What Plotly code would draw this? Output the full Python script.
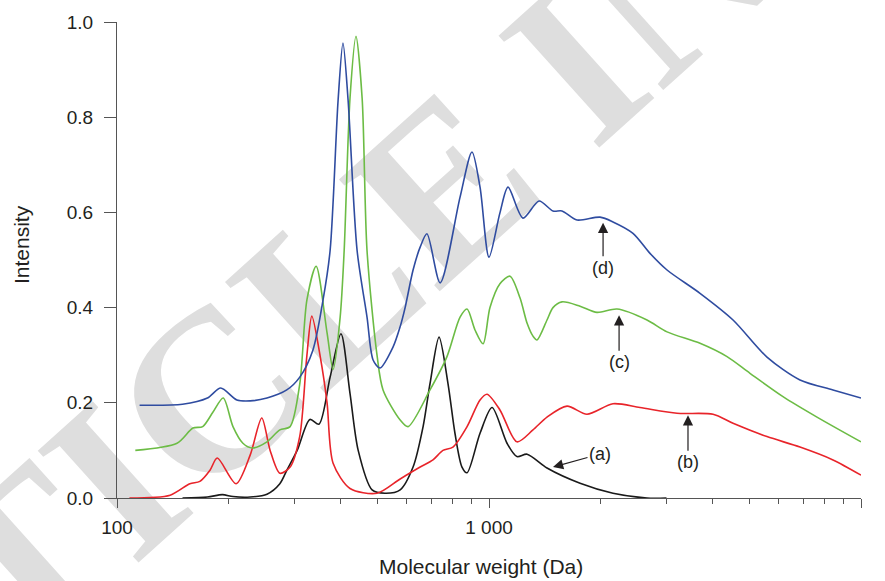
import numpy as np
import plotly.graph_objects as go

# ---- data ----
mw_a = [150, 175, 192, 205, 228, 253, 274, 286, 305, 330, 349, 374, 400, 423, 445, 485, 525,
        577, 625, 665, 694, 734, 776, 810, 846, 873, 946, 1019, 1118, 1189, 1266, 1432, 1757,
        2154, 2659, 3000]
int_a = [0.0, 0.002, 0.007, 0.003, 0.002, 0.008, 0.03, 0.058, 0.10, 0.165, 0.155, 0.254, 0.345,
         0.22, 0.10, 0.017, 0.01, 0.017, 0.065, 0.15, 0.24, 0.338, 0.24, 0.136, 0.065, 0.053,
         0.136, 0.19, 0.115, 0.087, 0.092, 0.063, 0.031, 0.01, 0.0, 0.0]

mw_b = [108, 139, 157, 167, 178, 186, 209, 228, 245, 258, 274, 292, 310, 324, 334, 352, 367, 381,
        423, 500, 577, 653, 707, 752, 800, 873, 946, 988, 1070, 1189, 1313, 1432, 1621, 1834,
        2154, 2546, 3202, 4002, 4529, 5588, 6855, 8409, 10000]
int_b = [0.0, 0.006, 0.03, 0.035, 0.059, 0.084, 0.03, 0.09, 0.168, 0.10, 0.052, 0.065, 0.13, 0.30,
         0.382, 0.296, 0.2, 0.073, 0.02, 0.01, 0.04, 0.065, 0.08, 0.10, 0.107, 0.15, 0.206, 0.218,
         0.185, 0.118, 0.143, 0.17, 0.193, 0.176, 0.198, 0.19, 0.178, 0.176, 0.157, 0.129, 0.107,
         0.08, 0.048]

mw_c = [112, 145, 160, 170, 181, 193, 205, 218, 231, 253, 274, 292, 310, 324, 343, 367, 381, 398,
        408, 423, 439, 456, 470, 500, 519, 577, 606, 694, 771, 836, 873, 917, 964, 1006, 1070,
        1139, 1212, 1266, 1313, 1346, 1432, 1486, 1571, 1757, 1951, 2209, 2659, 3010, 3692, 4364,
        5030, 6170, 7615, 10000]
int_c = [0.10, 0.115, 0.147, 0.15, 0.18, 0.21, 0.15, 0.115, 0.105, 0.118, 0.143, 0.15, 0.24,
         0.416, 0.487, 0.347, 0.27, 0.38, 0.52, 0.84, 0.97, 0.84, 0.52, 0.30, 0.227, 0.164, 0.15,
         0.227, 0.297, 0.38, 0.397, 0.353, 0.324, 0.40, 0.45, 0.466, 0.42, 0.367, 0.34, 0.332,
         0.374, 0.40, 0.412, 0.403, 0.39, 0.397, 0.374, 0.349, 0.325, 0.297, 0.262, 0.213, 0.17,
         0.118]

mw_d = [115, 150, 175, 190, 210, 228, 253, 286, 310, 336, 358, 374, 393, 405, 418, 442, 470, 488,
        509, 552, 577, 595, 625, 653, 681, 739, 836, 900, 946, 1000, 1070, 1125, 1234, 1363, 1486,
        1571, 1724, 1988, 2154, 2438, 2709, 3010, 3692, 4529, 5588, 6855, 8409, 10000]
int_d = [0.195, 0.197, 0.21, 0.231, 0.206, 0.204, 0.21, 0.227, 0.254, 0.31, 0.416, 0.52, 0.836,
         0.956, 0.836, 0.52, 0.38, 0.29, 0.273, 0.317, 0.36, 0.40, 0.479, 0.527, 0.555, 0.452,
         0.632, 0.727, 0.653, 0.506, 0.599, 0.653, 0.588, 0.624, 0.603, 0.603, 0.584, 0.59, 0.58,
         0.556, 0.514, 0.479, 0.43, 0.374, 0.296, 0.248, 0.227, 0.21]

x_major = [100, 1000, 10000]
x_major_text = ["100", "1 000", "10 000"]
x_minor = [200, 300, 400, 500, 600, 700, 800, 900, 2000, 3000, 4000, 5000, 6000, 7000, 8000, 9000]
y_ticks = [0.0, 0.2, 0.4, 0.6, 0.8, 1.0]

labels = ["(a)", "(b)", "(c)", "(d)"]
label_mw = [1486, 3427, 2237, 2026]
label_int = [0.065, 0.174, 0.384, 0.578]

x_title = "Molecular weight (Da)"
y_title = "Intensity"
watermark = "ARTICLE IN PRESS"

# ---- figure ----
FONT = "Liberation Sans, Arial, sans-serif"
TXT = "#231f20"
fig = go.Figure()

series = [
    (mw_a, int_a, "#1a1a1a", "(a)"),
    (mw_b, int_b, "#e8242a", "(b)"),
    (mw_c, int_c, "#6cbc45", "(c)"),
    (mw_d, int_d, "#2f4ca0", "(d)"),
]
for xs, ys, col, name in series:
    fig.add_trace(go.Scatter(x=xs, y=ys, mode="lines", name=name,
                             line=dict(color=col, width=1.6, shape="spline", smoothing=0.8),
                             showlegend=False, hoverinfo="skip"))

# arrows with labels
offsets = [(47, -13), (0, 47), (0, 47), (0, 45)]
for t, m, v, (ax, ay) in zip(labels, label_mw, label_int, offsets):
    fig.add_annotation(x=np.log10(m), y=v, xref="x", yref="y", text=t,
                       showarrow=True, arrowhead=2, arrowsize=1.7, arrowwidth=1.2,
                       arrowcolor=TXT, ax=ax, ay=ay, standoff=0,
                       font=dict(family=FONT, size=18, color=TXT))

# axis titles
fig.add_annotation(text=x_title, xref="paper", yref="paper", x=0.489, y=-0.143,
                   xanchor="center", yanchor="middle", showarrow=False,
                   font=dict(family=FONT, size=21, color=TXT))
fig.add_annotation(text=y_title, xref="paper", yref="paper", x=-0.129, y=0.5315,
                   xanchor="center", yanchor="middle", showarrow=False, textangle=-90,
                   font=dict(family=FONT, size=21, color=TXT))

# watermark (behind the curves)
fig.add_shape(type="rect", xref="paper", yref="paper", x0=0.508, x1=0.520, y0=0.831, y1=0.843,
              line=dict(width=0), fillcolor="rgba(0,0,0,0)", layer="below",
              label=dict(text=watermark, textangle=-42, textposition="middle center",
                         font=dict(family="Liberation Serif", size=230, color="#dedede",
                                   weight="bold")))

axis_col = "#555555"
fig.update_xaxes(type="log", range=[2, 4], showgrid=False, zeroline=False,
                 showline=True, linecolor=axis_col, linewidth=1.3, mirror=False,
                 tickmode="array", tickvals=x_major, ticktext=x_major_text,
                 ticks="outside", ticklen=9, tickwidth=1.2, tickcolor=axis_col,
                 ticklabelstandoff=3,
                 minor=dict(tickmode="array", tickvals=x_minor, ticks="outside", ticklen=5,
                            tickwidth=1, tickcolor=axis_col, showgrid=False),
                 tickfont=dict(family=FONT, size=19, color=TXT))
fig.update_yaxes(range=[0, 1], showgrid=False, zeroline=False,
                 showline=True, linecolor=axis_col, linewidth=1.3,
                 tickmode="array", tickvals=y_ticks, tickformat=".1f",
                 ticks="outside", ticklen=12, tickwidth=1.2, tickcolor=axis_col,
                 ticklabelstandoff=7,
                 tickfont=dict(family=FONT, size=19, color=TXT))

fig.update_layout(width=885, height=581, autosize=False,
                  margin=dict(l=117, r=24, t=22, b=83),
                  paper_bgcolor="white", plot_bgcolor="white")

fig.write_html("out.html")
